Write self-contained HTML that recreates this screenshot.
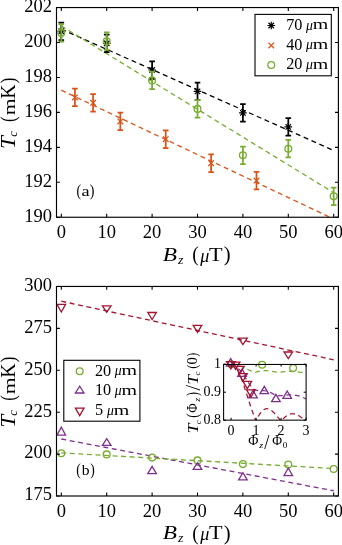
<!DOCTYPE html><html><head><meta charset="utf-8"><style>html,body{margin:0;padding:0;background:#fff;}svg{display:block;will-change:transform;}text{font-family:"Liberation Serif",serif;fill:#000;}</style></head><body>
<svg width="342" height="545" viewBox="0 0 342 545">
<rect width="342" height="545" fill="#fff"/>
<defs>
<clipPath id="c1"><rect x="56.5" y="7.55" width="281.9" height="209.7"/></clipPath>
<clipPath id="c2"><rect x="56.5" y="286.45" width="281.9" height="209.55"/></clipPath>
<clipPath id="ci"><rect x="223.6" y="364.2" width="82.5" height="56"/></clipPath>
</defs>
<line x1="61.3" y1="29.1" x2="333.7" y2="150.51" stroke="#000000" stroke-width="1.3" stroke-dasharray="4.95 3.61"/>
<line x1="61.3" y1="90.18" x2="333.7" y2="219.02" stroke="#D95319" stroke-width="1.3" stroke-dasharray="4.95 3.61" clip-path="url(#c1)"/>
<line x1="61.3" y1="25.9" x2="333.7" y2="192.69" stroke="#77AC30" stroke-width="1.3" stroke-dasharray="4.95 3.61"/>
<path d="M61.3 22.5V40M58.5 22.5H64.1M58.5 40H64.1" stroke="#000000" stroke-width="1.75" fill="none"/>
<path d="M57.5 31.25H65.1M61.3 27.45V35.05M58.56 28.51L64.04 33.99M58.56 33.99L64.04 28.51" stroke="#000000" stroke-width="1.2" fill="none"/>
<path d="M106.7 34.55V52.05M103.9 34.55H109.5M103.9 52.05H109.5" stroke="#000000" stroke-width="1.75" fill="none"/>
<path d="M102.9 43.3H110.5M106.7 39.5V47.1M103.96 40.56L109.44 46.04M103.96 46.04L109.44 40.56" stroke="#000000" stroke-width="1.2" fill="none"/>
<path d="M152.1 61.25V78.75M149.3 61.25H154.9M149.3 78.75H154.9" stroke="#000000" stroke-width="1.75" fill="none"/>
<path d="M148.3 70H155.9M152.1 66.2V73.8M149.36 67.26L154.84 72.74M149.36 72.74L154.84 67.26" stroke="#000000" stroke-width="1.2" fill="none"/>
<path d="M197.5 82.65V100.15M194.7 82.65H200.3M194.7 100.15H200.3" stroke="#000000" stroke-width="1.75" fill="none"/>
<path d="M193.7 91.4H201.3M197.5 87.6V95.2M194.76 88.66L200.24 94.14M194.76 94.14L200.24 88.66" stroke="#000000" stroke-width="1.2" fill="none"/>
<path d="M242.9 104.15V121.65M240.1 104.15H245.7M240.1 121.65H245.7" stroke="#000000" stroke-width="1.75" fill="none"/>
<path d="M239.1 112.9H246.7M242.9 109.1V116.7M240.16 110.16L245.64 115.64M240.16 115.64L245.64 110.16" stroke="#000000" stroke-width="1.2" fill="none"/>
<path d="M288.3 118.15V135.65M285.5 118.15H291.1M285.5 135.65H291.1" stroke="#000000" stroke-width="1.75" fill="none"/>
<path d="M284.5 126.9H292.1M288.3 123.1V130.7M285.56 124.16L291.04 129.64M285.56 129.64L291.04 124.16" stroke="#000000" stroke-width="1.2" fill="none"/>
<path d="M74.92 88.6V106.2M72.12 88.6H77.72M72.12 106.2H77.72" stroke="#D95319" stroke-width="1.75" fill="none"/>
<path d="M72.12 94.6L77.72 100.2M72.12 100.2L77.72 94.6" stroke="#D95319" stroke-width="1.3" fill="none"/>
<path d="M93.08 94V111.6M90.28 94H95.88M90.28 111.6H95.88" stroke="#D95319" stroke-width="1.75" fill="none"/>
<path d="M90.28 100L95.88 105.6M90.28 105.6L95.88 100" stroke="#D95319" stroke-width="1.3" fill="none"/>
<path d="M120.32 112.6V130.2M117.52 112.6H123.12M117.52 130.2H123.12" stroke="#D95319" stroke-width="1.75" fill="none"/>
<path d="M117.52 118.6L123.12 124.2M117.52 124.2L123.12 118.6" stroke="#D95319" stroke-width="1.3" fill="none"/>
<path d="M165.72 130.4V148M162.92 130.4H168.52M162.92 148H168.52" stroke="#D95319" stroke-width="1.75" fill="none"/>
<path d="M162.92 136.4L168.52 142M162.92 142L168.52 136.4" stroke="#D95319" stroke-width="1.3" fill="none"/>
<path d="M211.12 154.4V172M208.32 154.4H213.92M208.32 172H213.92" stroke="#D95319" stroke-width="1.75" fill="none"/>
<path d="M208.32 160.4L213.92 166M208.32 166L213.92 160.4" stroke="#D95319" stroke-width="1.3" fill="none"/>
<path d="M256.52 171.8V189.4M253.72 171.8H259.32M253.72 189.4H259.32" stroke="#D95319" stroke-width="1.75" fill="none"/>
<path d="M253.72 177.8L259.32 183.4M253.72 183.4L259.32 177.8" stroke="#D95319" stroke-width="1.3" fill="none"/>
<path d="M61.3 24.15V41.65M58.5 24.15H64.1M58.5 41.65H64.1" stroke="#77AC30" stroke-width="1.75" fill="none"/>
<circle cx="61.3" cy="32.9" r="3.4" fill="none" stroke="#77AC30" stroke-width="1.3"/>
<path d="M106.7 32.45V49.95M103.9 32.45H109.5M103.9 49.95H109.5" stroke="#77AC30" stroke-width="1.75" fill="none"/>
<circle cx="106.7" cy="41.2" r="3.4" fill="none" stroke="#77AC30" stroke-width="1.3"/>
<path d="M152.1 71.65V89.15M149.3 71.65H154.9M149.3 89.15H154.9" stroke="#77AC30" stroke-width="1.75" fill="none"/>
<circle cx="152.1" cy="80.4" r="3.4" fill="none" stroke="#77AC30" stroke-width="1.3"/>
<path d="M197.5 100.15V117.65M194.7 100.15H200.3M194.7 117.65H200.3" stroke="#77AC30" stroke-width="1.75" fill="none"/>
<circle cx="197.5" cy="108.9" r="3.4" fill="none" stroke="#77AC30" stroke-width="1.3"/>
<path d="M242.9 146.55V164.05M240.1 146.55H245.7M240.1 164.05H245.7" stroke="#77AC30" stroke-width="1.75" fill="none"/>
<circle cx="242.9" cy="155.3" r="3.4" fill="none" stroke="#77AC30" stroke-width="1.3"/>
<path d="M288.3 139.95V157.45M285.5 139.95H291.1M285.5 157.45H291.1" stroke="#77AC30" stroke-width="1.75" fill="none"/>
<circle cx="288.3" cy="148.7" r="3.4" fill="none" stroke="#77AC30" stroke-width="1.3"/>
<path d="M333.7 187.55V205.05M330.9 187.55H336.5M330.9 205.05H336.5" stroke="#77AC30" stroke-width="1.75" fill="none"/>
<circle cx="333.7" cy="196.3" r="3.4" fill="none" stroke="#77AC30" stroke-width="1.3"/>
<path d="M61.3 217.25V213.85M61.3 7.55V10.95M106.7 217.25V213.85M106.7 7.55V10.95M152.1 217.25V213.85M152.1 7.55V10.95M197.5 217.25V213.85M197.5 7.55V10.95M242.9 217.25V213.85M242.9 7.55V10.95M288.3 217.25V213.85M288.3 7.55V10.95M333.7 217.25V213.85M333.7 7.55V10.95M56.5 217.25H59.9M338.4 217.25H335M56.5 182.3H59.9M338.4 182.3H335M56.5 147.35H59.9M338.4 147.35H335M56.5 112.4H59.9M338.4 112.4H335M56.5 77.45H59.9M338.4 77.45H335M56.5 42.5H59.9M338.4 42.5H335M56.5 7.55H59.9M338.4 7.55H335" stroke="#000" stroke-width="1.1" fill="none"/>
<rect x="56.5" y="7.55" width="281.9" height="209.7" fill="none" stroke="#000" stroke-width="1.15"/>
<rect x="255.0" y="14.4" width="76.3" height="61.4" fill="#fff" stroke="#000" stroke-width="1.1"/>
<path d="M267.45 25.5H275.05M271.25 21.7V29.3M268.51 22.76L273.99 28.24M268.51 28.24L273.99 22.76" stroke="#000000" stroke-width="1.2" fill="none"/>
<path d="M268.45 42.6L274.05 48.2M268.45 48.2L274.05 42.6" stroke="#D95319" stroke-width="1.3" fill="none"/>
<circle cx="271.25" cy="64.95" r="3.4" fill="none" stroke="#77AC30" stroke-width="1.3"/>
<text x="286.23" y="29.80" font-size="16.2" transform="translate(287.30,0) scale(1.0,1) translate(-287.30,0)">70</text>
<text transform="translate(306.06,29.55) scale(0.962,1)" font-size="14.27" font-style="italic" fill="#000">μ</text>
<text transform="translate(312.68,29.30) scale(1.470,1)" font-size="13.58" fill="#000">m</text>
<text x="286.23" y="49.50" font-size="16.2" transform="translate(287.30,0) scale(1.0,1) translate(-287.30,0)">40</text>
<text transform="translate(306.06,49.25) scale(0.962,1)" font-size="14.27" font-style="italic" fill="#000">μ</text>
<text transform="translate(312.68,49.00) scale(1.470,1)" font-size="13.58" fill="#000">m</text>
<text x="286.23" y="69.20" font-size="16.2" transform="translate(287.30,0) scale(1.0,1) translate(-287.30,0)">20</text>
<text transform="translate(306.06,68.95) scale(0.962,1)" font-size="14.27" font-style="italic" fill="#000">μ</text>
<text transform="translate(312.68,68.70) scale(1.470,1)" font-size="13.58" fill="#000">m</text>
<text x="52" y="221.6" font-size="18.5" text-anchor="end">190</text>
<text x="52" y="186.65" font-size="18.5" text-anchor="end">192</text>
<text x="52" y="151.7" font-size="18.5" text-anchor="end">194</text>
<text x="52" y="116.75" font-size="18.5" text-anchor="end">196</text>
<text x="52" y="81.8" font-size="18.5" text-anchor="end">198</text>
<text x="52" y="46.85" font-size="18.5" text-anchor="end">200</text>
<text x="52" y="11.9" font-size="18.5" text-anchor="end">202</text>
<text x="61.3" y="237.8" font-size="18.5" text-anchor="middle">0</text>
<text x="106.7" y="237.8" font-size="18.5" text-anchor="middle">10</text>
<text x="152.1" y="237.8" font-size="18.5" text-anchor="middle">20</text>
<text x="197.5" y="237.8" font-size="18.5" text-anchor="middle">30</text>
<text x="242.9" y="237.8" font-size="18.5" text-anchor="middle">40</text>
<text x="288.3" y="237.8" font-size="18.5" text-anchor="middle">50</text>
<text x="333.7" y="237.8" font-size="18.5" text-anchor="middle">60</text>
<text transform="translate(162.68,260.74) scale(1.197,1)" font-size="19.46" font-style="italic" fill="#000">B</text>
<text transform="translate(177.96,263.60) scale(1.164,1)" font-size="11.98" font-style="italic" fill="#000">z</text>
<text transform="translate(192.34,261.05) scale(0.892,1)" font-size="21.84" fill="#000">(</text>
<text transform="translate(200.22,261.85) scale(1.006,1)" font-size="17.98" font-style="italic" fill="#000">μ</text>
<text transform="translate(208.90,260.70) scale(1.212,1)" font-size="18.33" fill="#000">T</text>
<text transform="translate(223.83,261.05) scale(0.945,1)" font-size="21.84" fill="#000">)</text>
<g transform="rotate(-90)">
<text transform="translate(-148.91,14.90) scale(1.146,1)" font-size="20.16" font-style="italic" fill="#000">T</text>
<text transform="translate(-136.78,17.48) scale(1.031,1)" font-size="12.06" font-style="italic" fill="#000">c</text>
<text transform="translate(-121.94,15.26) scale(0.803,1)" font-size="20.84" fill="#000">(</text>
<text transform="translate(-115.36,14.80) scale(1.256,1)" font-size="17.40" fill="#000">m</text>
<text transform="translate(-98.87,14.80) scale(0.988,1)" font-size="20.01" fill="#000">K</text>
<text transform="translate(-83.34,15.26) scale(0.803,1)" font-size="20.84" fill="#000">)</text>
</g>
<text transform="translate(76.60,196.20) scale(0.829,1)" font-size="16.43" fill="#000">(</text>
<text transform="translate(81.46,195.55) scale(1.213,1)" font-size="15.03" fill="#000">a</text>
<text transform="translate(89.75,196.20) scale(0.853,1)" font-size="16.43" fill="#000">)</text>
<line x1="61.3" y1="301.2" x2="333.7" y2="359.77" stroke="#A2142F" stroke-width="1.3" stroke-dasharray="4.95 3.61"/>
<line x1="61.3" y1="439" x2="333.7" y2="490.76" stroke="#7E2F8E" stroke-width="1.3" stroke-dasharray="4.95 3.61"/>
<line x1="61.3" y1="452.8" x2="333.7" y2="468.6" stroke="#77AC30" stroke-width="1.3" stroke-dasharray="4.95 3.61"/>
<circle cx="61.3" cy="453.3" r="3.4" fill="none" stroke="#77AC30" stroke-width="1.3"/>
<circle cx="106.7" cy="454.4" r="3.4" fill="none" stroke="#77AC30" stroke-width="1.3"/>
<circle cx="152.1" cy="457.6" r="3.4" fill="none" stroke="#77AC30" stroke-width="1.3"/>
<circle cx="197.5" cy="460.4" r="3.4" fill="none" stroke="#77AC30" stroke-width="1.3"/>
<circle cx="242.9" cy="464.1" r="3.4" fill="none" stroke="#77AC30" stroke-width="1.3"/>
<circle cx="288.3" cy="464.6" r="3.4" fill="none" stroke="#77AC30" stroke-width="1.3"/>
<circle cx="333.7" cy="469" r="3.4" fill="none" stroke="#77AC30" stroke-width="1.3"/>
<path d="M57 435.1H65.6L61.3 427.1Z" stroke="#7E2F8E" stroke-width="1.3" fill="none" stroke-linejoin="miter"/>
<path d="M102.4 445.3H111L106.7 438.7Z" stroke="#7E2F8E" stroke-width="1.3" fill="none" stroke-linejoin="miter"/>
<path d="M147.8 473.7H156.4L152.1 466.3Z" stroke="#7E2F8E" stroke-width="1.3" fill="none" stroke-linejoin="miter"/>
<path d="M193.2 469.3H201.8L197.5 462.7Z" stroke="#7E2F8E" stroke-width="1.3" fill="none" stroke-linejoin="miter"/>
<path d="M238.6 479.8H247.2L242.9 472.7Z" stroke="#7E2F8E" stroke-width="1.3" fill="none" stroke-linejoin="miter"/>
<path d="M284 475.6H292.6L288.3 468Z" stroke="#7E2F8E" stroke-width="1.3" fill="none" stroke-linejoin="miter"/>
<path d="M57 304.4H65.6L61.3 312Z" stroke="#A2142F" stroke-width="1.3" fill="none" stroke-linejoin="miter"/>
<path d="M102.4 305.9H111L106.7 312.4Z" stroke="#A2142F" stroke-width="1.3" fill="none" stroke-linejoin="miter"/>
<path d="M147.8 312.5H156.4L152.1 319.6Z" stroke="#A2142F" stroke-width="1.3" fill="none" stroke-linejoin="miter"/>
<path d="M193.2 325.4H201.8L197.5 332.4Z" stroke="#A2142F" stroke-width="1.3" fill="none" stroke-linejoin="miter"/>
<path d="M238.6 338.2H247.2L242.9 344.6Z" stroke="#A2142F" stroke-width="1.3" fill="none" stroke-linejoin="miter"/>
<path d="M284 352H292.6L288.3 358.6Z" stroke="#A2142F" stroke-width="1.3" fill="none" stroke-linejoin="miter"/>
<path d="M61.3 496V492.6M61.3 286.45V289.85M106.7 496V492.6M106.7 286.45V289.85M152.1 496V492.6M152.1 286.45V289.85M197.5 496V492.6M197.5 286.45V289.85M242.9 496V492.6M242.9 286.45V289.85M288.3 496V492.6M288.3 286.45V289.85M333.7 496V492.6M333.7 286.45V289.85M56.5 496H59.9M338.4 496H335M56.5 454.09H59.9M338.4 454.09H335M56.5 412.18H59.9M338.4 412.18H335M56.5 370.27H59.9M338.4 370.27H335M56.5 328.36H59.9M338.4 328.36H335M56.5 286.45H59.9M338.4 286.45H335" stroke="#000" stroke-width="1.1" fill="none"/>
<rect x="56.5" y="286.45" width="281.9" height="209.55" fill="none" stroke="#000" stroke-width="1.15"/>
<rect x="63.8" y="360.3" width="76.1" height="60.9" fill="#fff" stroke="#000" stroke-width="1.1"/>
<circle cx="79.7" cy="371.3" r="3.4" fill="none" stroke="#77AC30" stroke-width="1.3"/>
<path d="M75.4 393H84L79.7 386.2Z" stroke="#7E2F8E" stroke-width="1.3" fill="none" stroke-linejoin="miter"/>
<path d="M75.4 408.1H84L79.7 415.6Z" stroke="#A2142F" stroke-width="1.3" fill="none" stroke-linejoin="miter"/>
<text x="95.03" y="375.70" font-size="16.2" transform="translate(96.10,0) scale(1.0,1) translate(-96.10,0)">20</text>
<text transform="translate(114.86,375.45) scale(0.962,1)" font-size="14.27" font-style="italic" fill="#000">μ</text>
<text transform="translate(121.48,375.20) scale(1.470,1)" font-size="13.58" fill="#000">m</text>
<text x="95.03" y="395.40" font-size="16.2" transform="translate(96.10,0) scale(1.0,1) translate(-96.10,0)">10</text>
<text transform="translate(114.86,395.15) scale(0.962,1)" font-size="14.27" font-style="italic" fill="#000">μ</text>
<text transform="translate(121.48,394.90) scale(1.470,1)" font-size="13.58" fill="#000">m</text>
<text x="95.03" y="415.10" font-size="16.2" transform="translate(96.10,0) scale(1.0,1) translate(-96.10,0)">5</text>
<text transform="translate(107.11,414.85) scale(0.962,1)" font-size="14.27" font-style="italic" fill="#000">μ</text>
<text transform="translate(113.73,414.60) scale(1.470,1)" font-size="13.58" fill="#000">m</text>
<text x="52" y="500.35" font-size="18.5" text-anchor="end">175</text>
<text x="52" y="458.44" font-size="18.5" text-anchor="end">200</text>
<text x="52" y="416.53" font-size="18.5" text-anchor="end">225</text>
<text x="52" y="374.62" font-size="18.5" text-anchor="end">250</text>
<text x="52" y="332.71" font-size="18.5" text-anchor="end">275</text>
<text x="52" y="290.8" font-size="18.5" text-anchor="end">300</text>
<text x="61.3" y="516.6" font-size="18.5" text-anchor="middle">0</text>
<text x="106.7" y="516.6" font-size="18.5" text-anchor="middle">10</text>
<text x="152.1" y="516.6" font-size="18.5" text-anchor="middle">20</text>
<text x="197.5" y="516.6" font-size="18.5" text-anchor="middle">30</text>
<text x="242.9" y="516.6" font-size="18.5" text-anchor="middle">40</text>
<text x="288.3" y="516.6" font-size="18.5" text-anchor="middle">50</text>
<text x="333.7" y="516.6" font-size="18.5" text-anchor="middle">60</text>
<text transform="translate(162.68,539.34) scale(1.197,1)" font-size="19.46" font-style="italic" fill="#000">B</text>
<text transform="translate(177.96,542.20) scale(1.164,1)" font-size="11.98" font-style="italic" fill="#000">z</text>
<text transform="translate(192.34,539.65) scale(0.892,1)" font-size="21.84" fill="#000">(</text>
<text transform="translate(200.22,540.45) scale(1.006,1)" font-size="17.98" font-style="italic" fill="#000">μ</text>
<text transform="translate(208.90,539.30) scale(1.212,1)" font-size="18.33" fill="#000">T</text>
<text transform="translate(223.83,539.65) scale(0.945,1)" font-size="21.84" fill="#000">)</text>
<g transform="rotate(-90)">
<text transform="translate(-427.81,14.90) scale(1.146,1)" font-size="20.16" font-style="italic" fill="#000">T</text>
<text transform="translate(-415.68,17.48) scale(1.031,1)" font-size="12.06" font-style="italic" fill="#000">c</text>
<text transform="translate(-400.84,15.26) scale(0.803,1)" font-size="20.84" fill="#000">(</text>
<text transform="translate(-394.26,14.80) scale(1.256,1)" font-size="17.40" fill="#000">m</text>
<text transform="translate(-377.77,14.80) scale(0.988,1)" font-size="20.01" fill="#000">K</text>
<text transform="translate(-362.24,15.26) scale(0.803,1)" font-size="20.84" fill="#000">)</text>
</g>
<text transform="translate(76.20,475.37) scale(0.846,1)" font-size="16.10" fill="#000">(</text>
<text transform="translate(81.70,474.56) scale(1.086,1)" font-size="14.35" fill="#000">b</text>
<text transform="translate(90.26,475.37) scale(0.846,1)" font-size="16.10" fill="#000">)</text>
<rect x="223.6" y="364.2" width="82.5" height="56" fill="#fff"/>
<polyline points="231.1,364.2 231.35,364.2 231.6,364.21 231.85,364.21 232.1,364.22 232.35,364.24 232.6,364.25 232.85,364.27 233.1,364.3 233.35,364.32 233.6,364.35 233.85,364.38 234.1,364.42 234.35,364.45 234.6,364.49 234.85,364.54 235.1,364.58 235.35,364.63 235.6,364.68 235.85,364.73 236.1,364.79 236.35,364.85 236.6,364.91 236.85,364.98 237.1,365.04 237.35,365.11 237.6,365.18 237.85,365.26 238.1,365.33 238.35,365.41 238.6,365.49 238.85,365.58 239.1,365.66 239.35,365.75 239.6,365.84 239.85,365.93 240.1,366.02 240.35,366.12 240.6,366.22 240.85,366.31 241.1,366.41 241.35,366.52 241.6,366.62 241.85,366.72 242.1,366.83 242.35,366.94 242.6,367.05 242.85,367.16 243.1,367.27 243.35,367.38 243.6,367.49 243.85,367.61 244.1,367.72 244.35,367.84 244.6,367.95 244.85,368.07 245.1,368.19 245.35,368.31 245.6,368.42 245.85,368.54 246.1,368.66 246.35,368.78 246.6,368.9 246.85,369.02 247.1,369.14 247.35,369.26 247.6,369.38 247.85,369.5 248.1,369.62 248.35,369.74 248.6,369.85 248.85,369.97 249.1,370.09 249.35,370.2 249.6,370.32 249.85,370.44 250.1,370.55 250.35,370.66 250.6,370.78 250.85,370.89 251.1,371 251.35,371.11 251.6,371.21 251.85,371.32 252.1,371.43 252.35,371.53 252.6,371.63 252.85,371.73 253.1,371.83 253.35,371.93 253.6,372.03 253.85,372.12 254.1,372.22 254.35,372.31 254.6,372.4 254.85,372.49 255.1,372.4 255.35,372.32 255.6,372.23 255.85,372.15 256.1,372.08 256.35,372 256.6,371.92 256.85,371.85 257.1,371.78 257.35,371.71 257.6,371.65 257.85,371.58 258.1,371.52 258.35,371.46 258.6,371.4 258.85,371.35 259.1,371.3 259.35,371.24 259.6,371.2 259.85,371.15 260.1,371.11 260.35,371.06 260.6,371.02 260.85,370.99 261.1,370.95 261.35,370.92 261.6,370.89 261.85,370.86 262.1,370.83 262.35,370.81 262.6,370.79 262.85,370.77 263.1,370.75 263.35,370.74 263.6,370.72 263.85,370.71 264.1,370.7 264.35,370.7 264.6,370.69 264.85,370.69 265.1,370.69 265.35,370.69 265.6,370.69 265.85,370.7 266.1,370.7 266.35,370.71 266.6,370.72 266.85,370.74 267.1,370.75 267.35,370.77 267.6,370.78 267.85,370.8 268.1,370.82 268.35,370.84 268.6,370.87 268.85,370.89 269.1,370.92 269.35,370.95 269.6,370.98 269.85,371.01 270.1,371.04 270.35,371.07 270.6,371.11 270.85,371.14 271.1,371.18 271.35,371.21 271.6,371.25 271.85,371.29 272.1,371.33 272.35,371.37 272.6,371.41 272.85,371.45 273.1,371.5 273.35,371.54 273.6,371.58 273.85,371.63 274.1,371.67 274.35,371.72 274.6,371.76 274.85,371.81 275.1,371.85 275.35,371.9 275.6,371.94 275.85,371.99 276.1,372.04 276.35,372.08 276.6,372.13 276.85,372.17 277.1,372.22 277.35,372.27 277.6,372.31 277.85,372.36 278.1,372.4 278.35,372.44 278.6,372.49 278.85,372.44 279.1,372.4 279.35,372.36 279.6,372.32 279.85,372.28 280.1,372.24 280.35,372.2 280.6,372.16 280.85,372.12 281.1,372.08 281.35,372.04 281.6,372.01 281.85,371.97 282.1,371.94 282.35,371.91 282.6,371.87 282.85,371.84 283.1,371.81 283.35,371.78 283.6,371.75 283.85,371.73 284.1,371.7 284.35,371.68 284.6,371.65 284.85,371.63 285.1,371.61 285.35,371.59 285.6,371.57 285.85,371.55 286.1,371.53 286.35,371.52 286.6,371.5 286.85,371.49 287.1,371.48 287.35,371.47 287.6,371.46 287.85,371.45 288.1,371.44 288.35,371.44 288.6,371.43 288.85,371.43 289.1,371.43 289.35,371.42 289.6,371.42 289.85,371.43 290.1,371.43 290.35,371.43 290.6,371.44 290.85,371.44 291.1,371.45 291.35,371.46 291.6,371.46 291.85,371.47 292.1,371.48 292.35,371.5 292.6,371.51 292.85,371.52 293.1,371.54 293.35,371.55 293.6,371.57 293.85,371.59 294.1,371.61 294.35,371.62 294.6,371.64 294.85,371.67 295.1,371.69 295.35,371.71 295.6,371.73 295.85,371.75 296.1,371.78 296.35,371.8 296.6,371.83 296.85,371.85 297.1,371.88 297.35,371.91 297.6,371.93 297.85,371.96 298.1,371.99 298.35,372.02 298.6,372.05 298.85,372.07 299.1,372.1 299.35,372.13 299.6,372.16 299.85,372.19 300.1,372.22 300.35,372.25 300.6,372.28 300.85,372.31 301.1,372.34 301.35,372.37 301.6,372.4 301.85,372.43 302.1,372.46 302.35,372.49 302.6,372.46 302.85,372.43 303.1,372.4 303.35,372.37 303.6,372.35 303.85,372.32 304.1,372.29 304.35,372.26 304.6,372.24 304.85,372.21 305.1,372.19 305.35,372.16 305.6,372.14 305.85,372.11 306.1,372.09" fill="none" stroke="#77AC30" stroke-width="1.25" stroke-dasharray="4.95 3.61" clip-path="url(#ci)"/>
<polyline points="231.1,364.2 236,366.5 242,372 248,382 253,389 258,390.5 264,390.5 270,392.2 276,395.5 282,395.5 289,394.8 296,395.4 301,396.5 306,399" fill="none" stroke="#7E2F8E" stroke-width="1.25" stroke-dasharray="4.95 3.61" clip-path="url(#ci)"/>
<polyline points="231.1,364.2 231.35,364.21 231.6,364.24 231.85,364.28 232.1,364.35 232.35,364.43 232.6,364.54 232.85,364.66 233.1,364.8 233.35,364.95 233.6,365.13 233.85,365.32 234.1,365.54 234.35,365.77 234.6,366.01 234.85,366.28 235.1,366.56 235.35,366.86 235.6,367.18 235.85,367.52 236.1,367.87 236.35,368.23 236.6,368.62 236.85,369.02 237.1,369.43 237.35,369.87 237.6,370.31 237.85,370.77 238.1,371.25 238.35,371.74 238.6,372.25 238.85,372.77 239.1,373.3 239.35,373.85 239.6,374.41 239.85,374.98 240.1,375.57 240.35,376.16 240.6,376.77 240.85,377.39 241.1,378.02 241.35,378.66 241.6,379.32 241.85,379.98 242.1,380.65 242.35,381.33 242.6,382.02 242.85,382.72 243.1,383.42 243.35,384.13 243.6,384.85 243.85,385.58 244.1,386.31 244.35,387.05 244.6,387.8 244.85,388.55 245.1,389.3 245.35,390.06 245.6,390.83 245.85,391.59 246.1,392.36 246.35,393.13 246.6,393.91 246.85,394.68 247.1,395.46 247.35,396.24 247.6,397.02 247.85,397.8 248.1,398.57 248.35,399.35 248.6,400.13 248.85,400.9 249.1,401.68 249.35,402.45 249.6,403.22 249.85,403.98 250.1,404.74 250.35,405.5 250.6,406.25 250.85,407 251.1,407.75 251.35,408.48 251.6,409.22 251.85,409.94 252.1,410.66 252.35,411.38 252.6,412.08 252.85,412.78 253.1,413.47 253.35,414.15 253.6,414.83 253.85,415.49 254.1,416.15 254.35,416.8 254.6,417.43 254.85,418.06 255.1,418.68 255.35,419.28 255.6,419.88 255.85,420.47 256.1,421.04 256.35,420.48 256.6,419.93 256.85,419.39 257.1,418.86 257.35,418.34 257.6,417.84 257.85,417.35 258.1,416.87 258.35,416.41 258.6,415.96 258.85,415.52 259.1,415.09 259.35,414.68 259.6,414.28 259.85,413.9 260.1,413.53 260.35,413.17 260.6,412.82 260.85,412.49 261.1,412.18 261.35,411.88 261.6,411.59 261.85,411.31 262.1,411.05 262.35,410.81 262.6,410.57 262.85,410.35 263.1,410.15 263.35,409.96 263.6,409.78 263.85,409.62 264.1,409.47 264.35,409.33 264.6,409.21 264.85,409.1 265.1,409 265.35,408.92 265.6,408.85 265.85,408.79 266.1,408.75 266.35,408.72 266.6,408.7 266.85,408.69 267.1,408.7 267.35,408.72 267.6,408.75 267.85,408.79 268.1,408.84 268.35,408.9 268.6,408.98 268.85,409.06 269.1,409.16 269.35,409.27 269.6,409.38 269.85,409.51 270.1,409.65 270.35,409.79 270.6,409.95 270.85,410.11 271.1,410.29 271.35,410.47 271.6,410.66 271.85,410.85 272.1,411.06 272.35,411.27 272.6,411.49 272.85,411.71 273.1,411.95 273.35,412.19 273.6,412.43 273.85,412.68 274.1,412.93 274.35,413.2 274.6,413.46 274.85,413.73 275.1,414 275.35,414.28 275.6,414.56 275.85,414.84 276.1,415.13 276.35,415.42 276.6,415.71 276.85,416.01 277.1,416.3 277.35,416.6 277.6,416.9 277.85,417.2 278.1,417.5 278.35,417.8 278.6,418.1 278.85,418.4 279.1,418.7 279.35,419 279.6,419.29 279.85,419.59 280.1,419.88 280.35,420.18 280.6,420.47 280.85,420.75 281.1,421.04 281.35,420.76 281.6,420.48 281.85,420.2 282.1,419.93 282.35,419.66 282.6,419.39 282.85,419.13 283.1,418.88 283.35,418.62 283.6,418.38 283.85,418.14 284.1,417.9 284.35,417.67 284.6,417.44 284.85,417.22 285.1,417 285.35,416.8 285.6,416.59 285.85,416.4 286.1,416.21 286.35,416.02 286.6,415.85 286.85,415.67 287.1,415.51 287.35,415.35 287.6,415.2 287.85,415.06 288.1,414.93 288.35,414.8 288.6,414.68 288.85,414.56 289.1,414.46 289.35,414.36 289.6,414.26 289.85,414.18 290.1,414.1 290.35,414.03 290.6,413.97 290.85,413.92 291.1,413.87 291.35,413.83 291.6,413.8 291.85,413.77 292.1,413.76 292.35,413.75 292.6,413.74 292.85,413.75 293.1,413.76 293.35,413.78 293.6,413.8 293.85,413.84 294.1,413.87 294.35,413.92 294.6,413.97 294.85,414.03 295.1,414.1 295.35,414.17 295.6,414.25 295.85,414.33 296.1,414.42 296.35,414.52 296.6,414.62 296.85,414.73 297.1,414.84 297.35,414.96 297.6,415.08 297.85,415.21 298.1,415.34 298.35,415.48 298.6,415.62 298.85,415.76 299.1,415.91 299.35,416.07 299.6,416.23 299.85,416.39 300.1,416.55 300.35,416.72 300.6,416.89 300.85,417.07 301.1,417.24 301.35,417.42 301.6,417.6 301.85,417.79 302.1,417.97 302.35,418.16 302.6,418.35 302.85,418.54 303.1,418.73 303.35,418.92 303.6,419.11 303.85,419.31 304.1,419.5 304.35,419.69 304.6,419.89 304.85,420.08 305.1,420.27 305.35,420.47 305.6,420.66 305.85,420.85 306.1,421.04" fill="none" stroke="#A2142F" stroke-width="1.25" stroke-dasharray="4.95 3.61" clip-path="url(#ci)"/>
<circle cx="231.1" cy="364.2" r="3.4" fill="none" stroke="#77AC30" stroke-width="1.3"/>
<circle cx="262.1" cy="364.7" r="3.4" fill="none" stroke="#77AC30" stroke-width="1.3"/>
<circle cx="293.1" cy="368" r="3.4" fill="none" stroke="#77AC30" stroke-width="1.3"/>
<path d="M226.4 366H235L230.7 358.6Z" stroke="#7E2F8E" stroke-width="1.3" fill="none" stroke-linejoin="miter"/>
<path d="M237.7 376.4H246.3L242 369Z" stroke="#7E2F8E" stroke-width="1.3" fill="none" stroke-linejoin="miter"/>
<path d="M248.7 397.8H257.3L253 390.4Z" stroke="#7E2F8E" stroke-width="1.3" fill="none" stroke-linejoin="miter"/>
<path d="M260 393.7H268.6L264.3 386.3Z" stroke="#7E2F8E" stroke-width="1.3" fill="none" stroke-linejoin="miter"/>
<path d="M271.6 401.7H280.2L275.9 394.3Z" stroke="#7E2F8E" stroke-width="1.3" fill="none" stroke-linejoin="miter"/>
<path d="M282.9 398.4H291.5L287.2 391Z" stroke="#7E2F8E" stroke-width="1.3" fill="none" stroke-linejoin="miter"/>
<path d="M226.5 361.6H235.1L230.8 368.9Z" stroke="#A2142F" stroke-width="1.3" fill="none" stroke-linejoin="miter"/>
<path d="M231.3 362.1H239.9L235.6 369.4Z" stroke="#A2142F" stroke-width="1.3" fill="none" stroke-linejoin="miter"/>
<path d="M235.6 366.3H244.2L239.9 373.6Z" stroke="#A2142F" stroke-width="1.3" fill="none" stroke-linejoin="miter"/>
<path d="M238.7 373.7H247.3L243 381Z" stroke="#A2142F" stroke-width="1.3" fill="none" stroke-linejoin="miter"/>
<path d="M243 381.4H251.6L247.3 388.7Z" stroke="#A2142F" stroke-width="1.3" fill="none" stroke-linejoin="miter"/>
<path d="M246.6 389.9H255.2L250.9 397.2Z" stroke="#A2142F" stroke-width="1.3" fill="none" stroke-linejoin="miter"/>
<path d="M231.1 420.2V417.8M231.1 364.2V366.6M256.1 420.2V417.8M256.1 364.2V366.6M281.1 420.2V417.8M281.1 364.2V366.6M306.1 420.2V417.8M306.1 364.2V366.6M223.6 420.2H226M306.1 420.2H303.7M223.6 392.2H226M306.1 392.2H303.7M223.6 364.2H226M306.1 364.2H303.7" stroke="#000" stroke-width="1" fill="none"/>
<rect x="223.6" y="364.45" width="82.5" height="55.7" fill="none" stroke="#000" stroke-width="1.05"/>
<text x="221" y="367.55" font-size="14" text-anchor="end">1</text>
<text x="221" y="395.55" font-size="14" text-anchor="end">0.9</text>
<text x="221" y="423.55" font-size="14" text-anchor="end">0.8</text>
<text x="231.1" y="435" font-size="14" text-anchor="middle">0</text>
<text x="256.1" y="435" font-size="14" text-anchor="middle">1</text>
<text x="281.1" y="435" font-size="14" text-anchor="middle">2</text>
<text x="306.1" y="435" font-size="14" text-anchor="middle">3</text>
<text transform="translate(248.18,445.30) scale(0.998,1)" font-size="13.90" fill="#000">Φ</text>
<text transform="translate(259.31,447.90) scale(1.185,1)" font-size="8.50" font-style="italic" fill="#000">z</text>
<text transform="translate(264.30,448.90) scale(0.927,1)" font-size="20.18" fill="#000">/</text>
<text transform="translate(272.29,445.30) scale(0.966,1)" font-size="13.90" fill="#000">Φ</text>
<text transform="translate(282.65,447.81) scale(1.052,1)" font-size="8.74" fill="#000">0</text>
<g transform="rotate(-90)">
<text transform="translate(-433.57,197.80) scale(1.179,1)" font-size="15.12" font-style="italic" fill="#000">T</text>
<text transform="translate(-424.27,200.51) scale(0.996,1)" font-size="8.73" font-style="italic" fill="#000">c</text>
<text transform="translate(-417.68,197.64) scale(0.839,1)" font-size="15.77" fill="#000">(</text>
<text transform="translate(-412.69,197.00) scale(0.894,1)" font-size="14.51" fill="#000">Φ</text>
<text transform="translate(-401.68,200.00) scale(1.185,1)" font-size="8.71" font-style="italic" fill="#000">z</text>
<text transform="translate(-396.08,197.64) scale(0.741,1)" font-size="15.77" fill="#000">)</text>
<text transform="translate(-390.50,200.40) scale(0.963,1)" font-size="20.93" fill="#000">/</text>
<text transform="translate(-384.65,197.50) scale(1.229,1)" font-size="14.36" font-style="italic" fill="#000">T</text>
<text transform="translate(-375.38,199.82) scale(1.050,1)" font-size="8.52" font-style="italic" fill="#000">c</text>
<text transform="translate(-368.76,197.31) scale(0.832,1)" font-size="15.44" fill="#000">(</text>
<text transform="translate(-364.47,197.06) scale(1.024,1)" font-size="14.52" fill="#000">0</text>
<text transform="translate(-356.55,197.31) scale(0.706,1)" font-size="15.44" fill="#000">)</text>
</g>
</svg></body></html>
